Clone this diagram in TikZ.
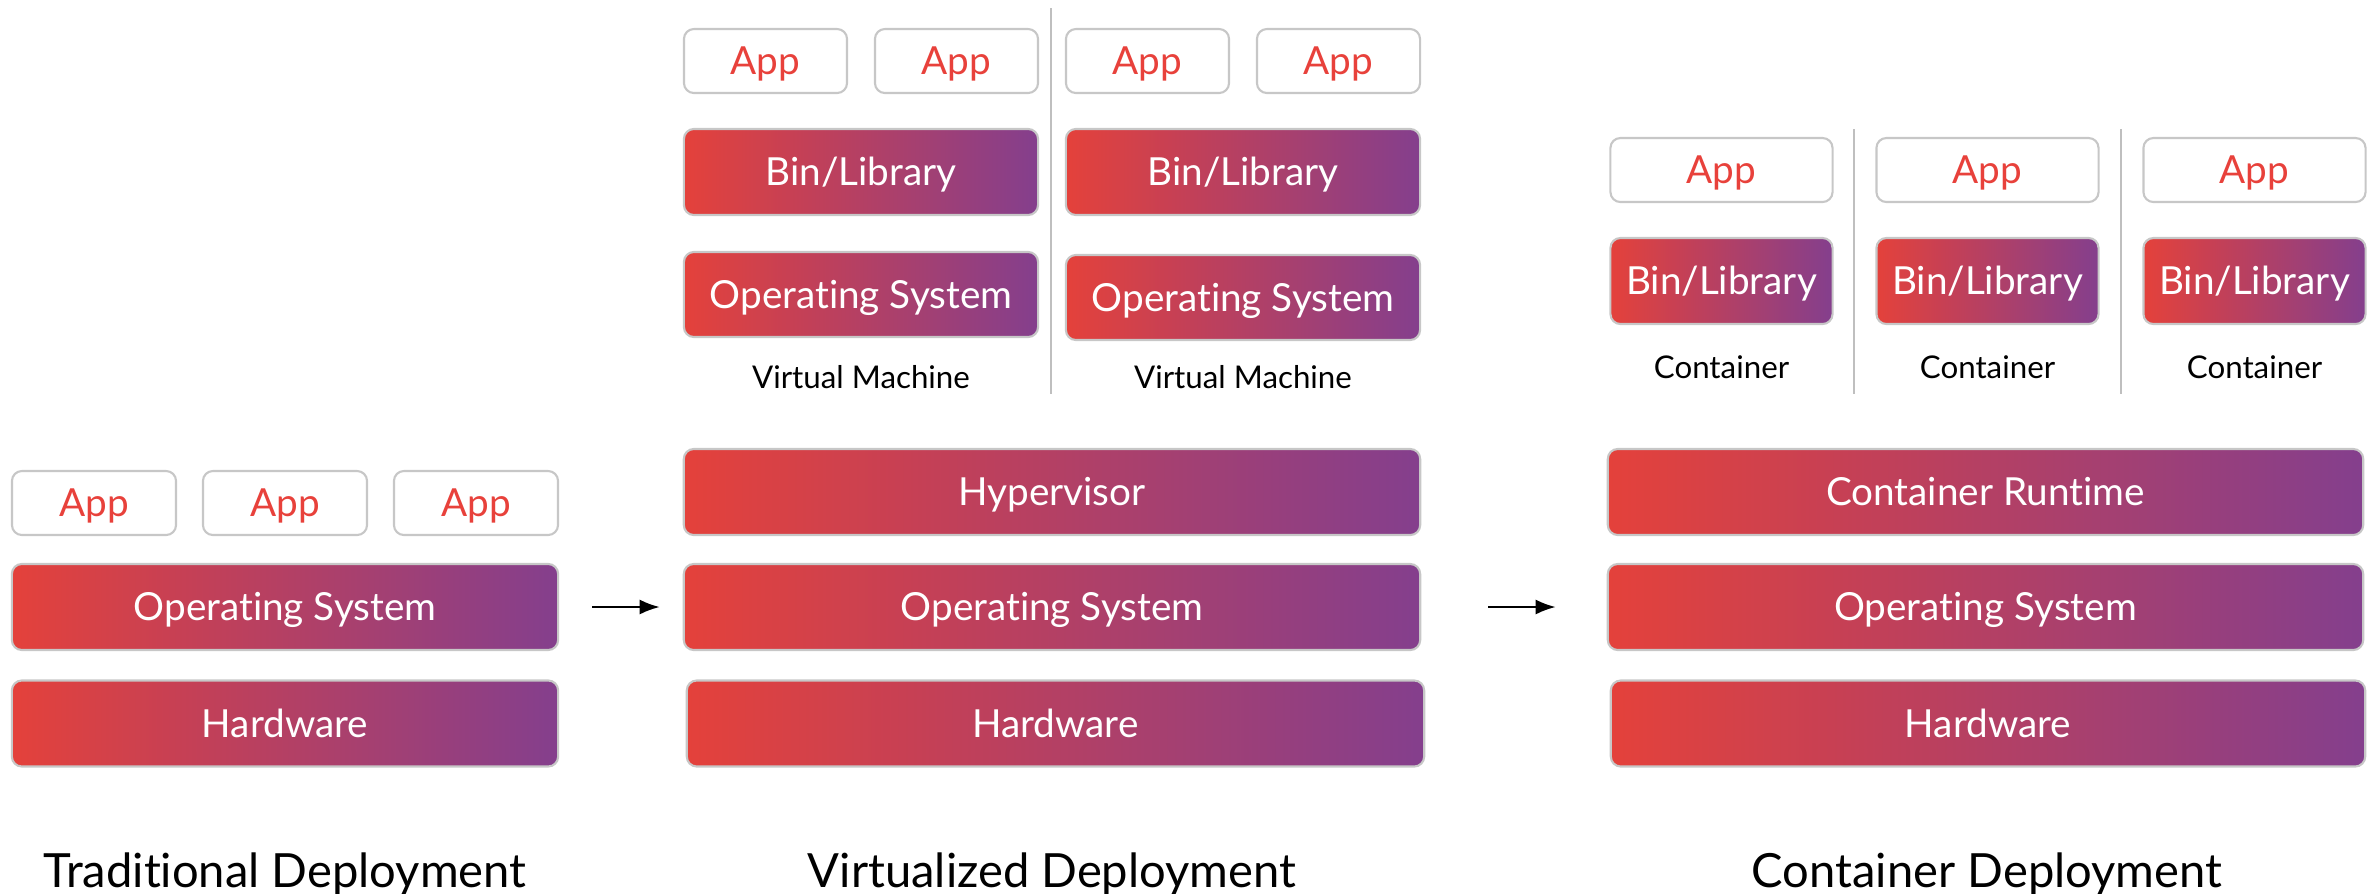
\documentclass[tikz,border=0pt]{standalone}
\usepackage{fontspec}
\setmainfont{Lato}[Ligatures={NoCommon,NoContextual}, Contextuals=NoAlternate]
\usetikzlibrary{arrows.meta}
\definecolor{gradL}{HTML}{E4413B}
\definecolor{gradR}{HTML}{843F8D}
\definecolor{apptext}{HTML}{E8413B}
\colorlet{boxline}{black!22}
\tikzset{
  box/.style={rounded corners=0.1cm, draw=boxline, line width=0.6pt, inner sep=0pt,
    text height=7.9pt, text depth=0pt},
  layer/.style={box, left color=gradL, right color=gradR, text=white,
    font=\fontsize{11}{13}\selectfont, minimum height=0.86cm},
  appbox/.style={box, fill=white, text=apptext, font=\fontsize{11}{13}\selectfont, minimum height=0.64cm},
  caption/.style={font=\fontsize{8.9}{11}\selectfont, anchor=base},
  heading/.style={font=\fontsize{13.4}{16}\selectfont, anchor=base},
  divider/.style={draw=black!25, line width=0.6pt},
  flow/.style={-{Latex[length=2mm,width=1.5mm]}, line width=0.6pt}
}

\begin{document}
\begin{tikzpicture}[x=0.01cm, y=-0.01cm]
  \useasboundingbox (0,0) rectangle (2377,893);

  % traditional
  \foreach \x [count=\i] in {94,285,476}
    \node[appbox, minimum width=1.64cm] (tapp\i) at (\x,503) {App};
  \node[layer, minimum width=5.46cm] (tos) at (285,607) {Operating System};
  \node[layer, minimum width=5.46cm] (thw) at (285,723.5) {Hardware};
  \node[heading] (ttitle) at (285,887) {Traditional Deployment};

  % virtualized
  \foreach \x [count=\i] in {765.5,956.5,1147.5,1338.5}
    \node[appbox, minimum width=1.63cm] (vapp\i) at (\x,61) {App};
  \foreach \x/\y [count=\i] in {861/294.5,1243/297.5} {
    \node[layer, minimum width=3.54cm] (vbin\i) at (\x,172) {Bin/Library};
    \node[layer, minimum width=3.54cm, minimum height=0.85cm] (vgos\i) at (\x,\y) {Operating System};
    \node[caption] (vvm\i) at (\x,388) {Virtual Machine};
  }
  \draw[divider] (1051,8) -- (1051,394);
  \node[layer, minimum width=7.36cm] (vhyp) at (1052,492) {Hypervisor};
  \node[layer, minimum width=7.36cm] (vos) at (1052,607) {Operating System};
  \node[layer, minimum width=7.37cm] (vhw) at (1055.5,723.5) {Hardware};
  \node[heading] (vtitle) at (1052,887) {Virtualized Deployment};

  % container
  \foreach \x [count=\i] in {1721.5,1987.5,2254.5} {
    \node[appbox, minimum width=2.22cm] (capp\i) at (\x,170) {App};
    \node[layer, minimum width=2.22cm] (cbin\i) at (\x,281) {Bin/Library};
    \node[caption] (cname\i) at (\x,378) {Container};
  }
  \foreach \x in {1854,2121}
    \draw[divider] (\x,129) -- (\x,394);
  \node[layer, minimum width=7.55cm] (crt) at (1985.5,492) {Container Runtime};
  \node[layer, minimum width=7.55cm] (cos) at (1985.5,607) {Operating System};
  \node[layer, minimum width=7.54cm] (chw) at (1988,723.5) {Hardware};
  \node[heading] (ctitle) at (1987,887) {Container Deployment};

  \draw[flow, shorten <=0.33cm, shorten >=0.23cm] (tos) -- (vos);
  \draw[flow, shorten <=0.67cm, shorten >=0.51cm] (vos) -- (cos);
\end{tikzpicture}
\end{document}
